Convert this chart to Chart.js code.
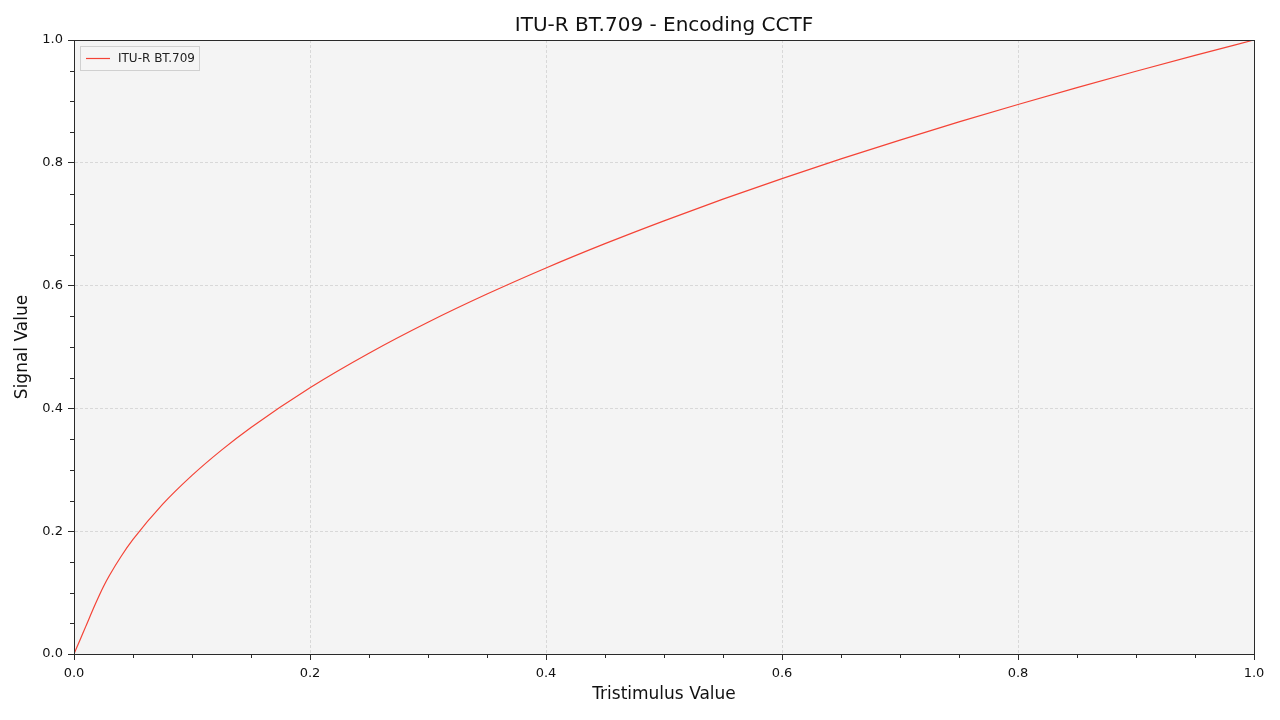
<!DOCTYPE html>
<html>
<head>
<meta charset="utf-8">
<style>html,body{margin:0;padding:0;background:#fff;}canvas{display:block;}</style>
<script src="https://cdn.jsdelivr.net/npm/chart.js@4.4.1/dist/chart.umd.min.js"></script>
</head>
<body>
<canvas id="c" width="1280" height="720"></canvas>
<script>
const titleText = 'ITU-R BT.709 - Encoding CCTF';
const seriesLabel = 'ITU-R BT.709';
const xAxisTitle = 'Tristimulus Value';
const yAxisTitle = 'Signal Value';
const tristimulus = [0, 0.005, 0.01, 0.018, 0.025, 0.03, 0.04, 0.05, 0.075, 0.1, 0.125, 0.15, 0.2, 0.25, 0.3, 0.35, 0.4, 0.45, 0.5, 0.55, 0.6, 0.65, 0.7, 0.75, 0.8, 0.85, 0.9, 0.95, 1.0];
const signal = [0, 0.0225, 0.045, 0.081, 0.110, 0.1278, 0.1592, 0.1865, 0.2436, 0.2909, 0.3321, 0.3690, 0.4337, 0.4899, 0.5403, 0.5862, 0.6287, 0.6683, 0.7055, 0.7408, 0.7743, 0.8063, 0.8370, 0.8666, 0.8950, 0.9225, 0.9491, 0.9749, 1.0];
const majorTicks = [0, 0.2, 0.4, 0.6, 0.8, 1.0];
const minorStep = 0.05;

const points = tristimulus.map((x, i) => ({x: x, y: signal[i]}));
const FONT = 'DejaVu Sans';
const AXIS = '#2a2a2a';

const framePlugin = {
  id: 'frame',
  beforeDraw(chart) {
    const a = chart.chartArea, ctx = chart.ctx;
    ctx.save();
    ctx.fillStyle = '#f4f4f4';
    ctx.fillRect(a.left, a.top, a.right - a.left, a.bottom - a.top);
    ctx.restore();
  },
  afterDraw(chart) {
    const a = chart.chartArea, ctx = chart.ctx;
    const xs = chart.scales.x, ys = chart.scales.y;
    ctx.save();
    ctx.strokeStyle = AXIS;
    ctx.lineWidth = 1;
    ctx.beginPath();
    for (let k = 0; k <= 20; k++) {
      const v = k * minorStep;
      if (k % 4 === 0) continue;
      const px = Math.round(xs.getPixelForValue(v)) + 0.5;
      ctx.moveTo(px, a.bottom); ctx.lineTo(px, a.bottom + 4);
      const py = Math.round(ys.getPixelForValue(v)) + 0.5;
      ctx.moveTo(a.left, py); ctx.lineTo(a.left - 4, py);
    }
    ctx.stroke();
    ctx.strokeRect(Math.round(a.left) + 0.5, Math.round(a.top) + 0.5, Math.round(a.right - a.left), Math.round(a.bottom - a.top));
    // legend
    const lx = a.left + 6, ly = a.top + 6, lw = 119, lh = 24;
    ctx.fillStyle = 'rgba(244,244,244,0.85)';
    ctx.fillRect(lx, ly, lw, lh);
    ctx.strokeStyle = '#d0d0d0';
    ctx.strokeRect(lx + 0.5, ly + 0.5, lw, lh);
    const ds = chart.data.datasets[0];
    ctx.strokeStyle = ds.borderColor;
    ctx.lineWidth = 1.2;
    ctx.beginPath();
    ctx.moveTo(lx + 6, ly + 12.5); ctx.lineTo(lx + 30, ly + 12.5);
    ctx.stroke();
    ctx.fillStyle = '#222';
    ctx.font = '12px "' + FONT + '"';
    ctx.textBaseline = 'middle';
    ctx.textAlign = 'left';
    ctx.fillText(ds.label, lx + 38, ly + 12.5);
    ctx.restore();
  }
};

const gridOpts = {
  color: '#d8d8d8',
  lineWidth: 1,
  tickLength: 6,
  tickColor: AXIS,
  tickBorderDash: [],
  drawTicks: true
};
const borderOpts = {display: true, color: AXIS, width: 1, dash: [3, 2]};

new Chart(document.getElementById('c'), {
  type: 'line',
  data: {
    datasets: [{
      label: seriesLabel,
      data: points,
      borderColor: '#f44336',
      borderWidth: 1.2,
      pointRadius: 0,
      fill: false,
      cubicInterpolationMode: 'monotone'
    }]
  },
  options: {
    responsive: false,
    animation: false,
    devicePixelRatio: 1,
    layout: {padding: {left: 0, right: 26, top: 0, bottom: 0}},
    plugins: {
      legend: {display: false},
      tooltip: {enabled: false},
      title: {
        display: true,
        fullSize: false,
        text: titleText,
        color: '#111',
        font: {family: FONT, size: 20, weight: 'normal'},
        padding: {top: 14, bottom: 2}
      }
    },
    scales: {
      x: {
        type: 'linear',
        min: 0, max: 1,
        afterBuildTicks: s => { s.ticks = majorTicks.map(v => ({value: v})); },
        afterFit: s => { s.height = 66; },
        ticks: {
          color: '#111',
          font: {family: FONT, size: 13},
          padding: 6,
          maxRotation: 0,
          callback: v => v.toFixed(1)
        },
        grid: gridOpts,
        border: borderOpts,
        title: {
          display: true,
          text: xAxisTitle,
          color: '#111',
          font: {family: FONT, size: 17},
          padding: {top: 0, bottom: 14.8}
        }
      },
      y: {
        type: 'linear',
        min: 0, max: 1,
        afterBuildTicks: s => { s.ticks = majorTicks.map(v => ({value: v})); },
        afterFit: s => { s.width = 74; },
        ticks: {
          color: '#111',
          font: {family: FONT, size: 13},
          padding: 5,
          callback: v => v.toFixed(1)
        },
        grid: gridOpts,
        border: borderOpts,
        title: {
          display: true,
          text: yAxisTitle,
          color: '#111',
          font: {family: FONT, size: 17},
          padding: {top: 12.8, bottom: 0}
        }
      }
    }
  },
  plugins: [framePlugin]
});
</script>
</body>
</html>
